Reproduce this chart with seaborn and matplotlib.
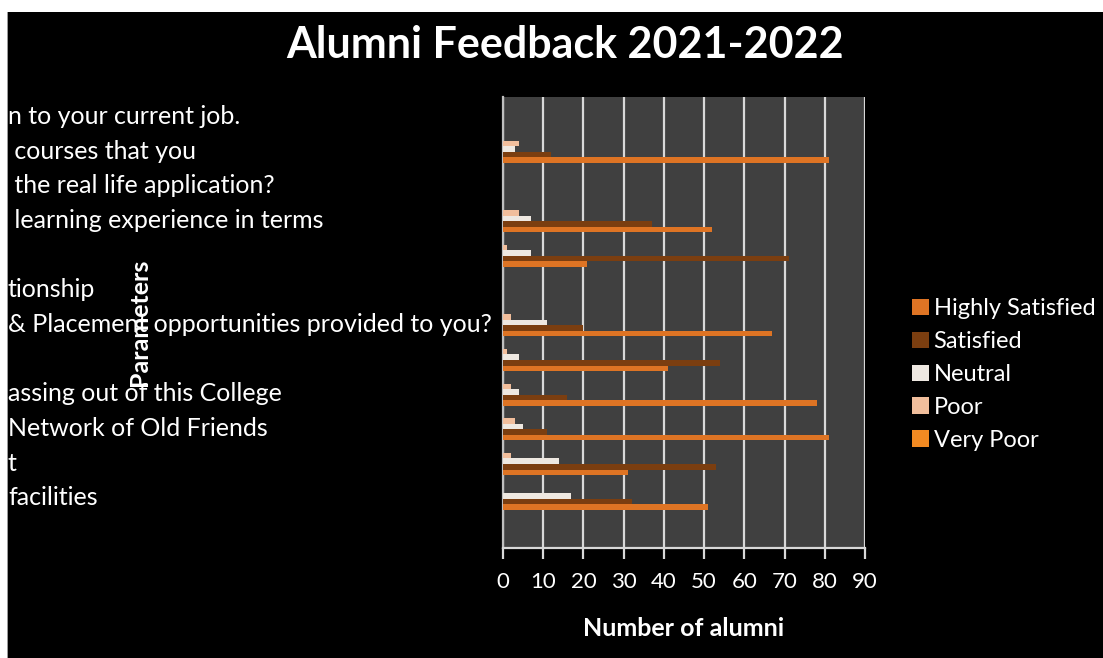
import pandas as pd
import seaborn as sns
import matplotlib.pyplot as plt
from matplotlib.patches import Rectangle

# Data (13 category slots, some empty)

slots = ['Q' + str(i) for i in range(1, 14)]
labels = ['n to your current job.',
          ' courses that you',
          ' the real life application?',
          ' learning experience in terms',
          '',
          'tionship',
          '& Placement opportunities provided to you?',
          '',
          'assing out of this College',
          'Network of Old Friends',
          't',
          'facilities',
          '']

nan = float('nan')
very_poor = [nan, 0, nan, 0, 0, nan, 0, 0, 0, 0, 0, 0, nan]
poor = [nan, 4, nan, 4, 1, nan, 2, 1, 2, 3, 2, 0, nan]
neutral = [nan, 3, nan, 7, 7, nan, 11, 4, 4, 5, 14, 17, nan]
satisfied = [nan, 12, nan, 37, 71, nan, 20, 54, 16, 11, 53, 32, nan]
highly_satisfied = [nan, 81, nan, 52, 21, nan, 67, 41, 78, 81, 31, 51, nan]

ratings = ['Very Poor', 'Poor', 'Neutral', 'Satisfied', 'Highly Satisfied']
colors = ['#F28A22', '#F1BE9C', '#EEE8E1', '#7B3E10', '#DE7424']

series = [very_poor, poor, neutral, satisfied, highly_satisfied]
df = pd.concat([pd.DataFrame({'Parameter': slots, 'Rating': r, 'Count': v})
                for r, v in zip(ratings, series)], ignore_index=True)

# Figure

W, H = 1103, 658
fig = plt.figure(figsize=(W / 100, H / 100), dpi=100, facecolor='white')
fig.patches.append(Rectangle((8 / W, 0), 1 - 8 / W, 1 - 12 / H,
                             transform=fig.transFigure, facecolor='black',
                             edgecolor='none', zorder=-2))
fig.patches.append(Rectangle((6.5 / W, 0), 1.5 / W, 1 - 12 / H,
                             transform=fig.transFigure, facecolor='#9a9a9a',
                             edgecolor='none', zorder=-2))

ax = fig.add_axes([503 / W, 1 - 548 / H, 362 / W, 451 / H])
ax.set_facecolor('#404040')

sns.barplot(data=df, y='Parameter', x='Count', hue='Rating', order=slots,
            hue_order=ratings, palette=colors, orient='h', width=0.8,
            saturation=1, ax=ax, zorder=3)

plt.rcParams['font.family'] = ['Lato', 'DejaVu Sans']
font = 'Lato'

ax.set_xlim(0, 90)
ax.set_xticks(range(0, 91, 10))
ax.grid(axis='x', color='#d8d8d8', linewidth=1.6, zorder=1)
ax.grid(axis='y', visible=False)
ax.set_axisbelow(True)
for s in ['top', 'right']:
    ax.spines[s].set_visible(False)
ax.spines['left'].set_color('#bfbfbf')
ax.spines['left'].set_linewidth(1.6)
ax.spines['bottom'].set_color('#d8d8d8')
ax.spines['bottom'].set_linewidth(1.6)

ax.tick_params(axis='x', colors='#d8d8d8', length=8, width=1.6,
               labelcolor='white', labelsize=16, pad=9)
for t in ax.get_xticklabels():
    t.set_fontfamily(font)

ax.set_yticks(range(len(slots)))
ax.set_yticklabels(labels, ha='left', fontsize=18, color='white',
                   fontfamily=font)
ax.tick_params(axis='y', length=0, pad=495 * 0.72)

ax.set_xlabel('Number of alumni', color='white', fontsize=18,
              fontweight='bold', fontfamily=font, labelpad=18)
ax.set_ylabel('Parameters', color='white', fontsize=18,
              fontweight='bold', fontfamily=font)
ax.yaxis.set_label_coords(-352 / 362, 0.5)

fig.text(565 / W, 1 - 45 / H, 'Alumni Feedback 2021-2022', color='white',
         fontsize=31, fontweight='bold', fontfamily=font,
         ha='center', va='center')

handles, names = ax.get_legend_handles_labels()
ax.legend(handles[::-1], names[::-1], loc='upper left',
          bbox_to_anchor=(903 / W, 1 - 289 / H), bbox_transform=fig.transFigure,
          frameon=False, labelcolor='white', prop={'family': font, 'size': 17},
          handlelength=0.7, handleheight=0.7, handletextpad=0.2,
          labelspacing=0.5, borderaxespad=0)

fig.savefig('out.png', dpi=100, facecolor=fig.get_facecolor())
